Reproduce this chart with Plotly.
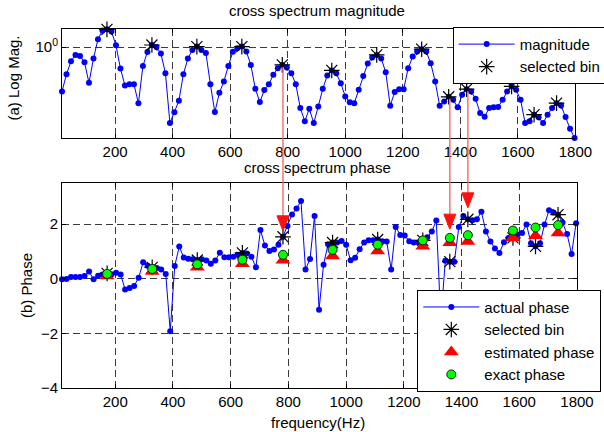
import plotly.graph_objects as go

# ---------------- data ----------------
freq = [15.625, 31.25, 46.875, 62.5, 78.125, 93.75, 109.375, 125, 140.625, 156.25,
        171.875, 187.5, 203.125, 218.75, 234.375, 250, 265.625, 281.25, 296.875, 312.5,
        328.125, 343.75, 359.375, 375, 390.625, 406.25, 421.875, 437.5, 453.125, 468.75,
        484.375, 500, 515.625, 531.25, 546.875, 562.5, 578.125, 593.75, 609.375, 625,
        640.625, 656.25, 671.875, 687.5, 703.125, 718.75, 734.375, 750, 765.625, 781.25,
        796.875, 812.5, 828.125, 843.75, 859.375, 875, 890.625, 906.25, 921.875, 937.5,
        953.125, 968.75, 984.375, 1000, 1015.625, 1031.25, 1046.875, 1062.5, 1078.125, 1093.75,
        1109.375, 1125, 1140.625, 1156.25, 1171.875, 1187.5, 1203.125, 1218.75, 1234.375, 1250,
        1265.625, 1281.25, 1296.875, 1312.5, 1328.125, 1343.75, 1359.375, 1375, 1390.625, 1406.25,
        1421.875, 1437.5, 1453.125, 1468.75, 1484.375, 1500, 1515.625, 1531.25, 1546.875, 1562.5,
        1578.125, 1593.75, 1609.375, 1625, 1640.625, 1656.25, 1671.875, 1687.5, 1703.125, 1718.75,
        1734.375, 1750, 1765.625, 1781.25, 1796.875]

mag_log10 = [-0.390, -0.238, -0.124, -0.068, -0.077, -0.132, -0.314, -0.100, 0.070, 0.146,
             0.157, 0.137, 0.017, -0.188, -0.337, -0.326, -0.326, -0.495, -0.165, -0.042,
             0.019, 0.002, -0.056, -0.229, -0.668, -0.574, -0.472, -0.238, -0.100, -0.024,
             0.005, -0.024, -0.051, -0.326, -0.572, -0.402, -0.302, -0.165, -0.040, -0.010,
             0.005, -0.038, -0.156, -0.367, -0.484, -0.378, -0.326, -0.244, -0.185, -0.156,
             -0.179, -0.229, -0.326, -0.536, -0.653, -0.543, -0.668, -0.522, -0.367, -0.249,
             -0.205, -0.229, -0.317, -0.434, -0.486, -0.493, -0.376, -0.253, -0.144, -0.091,
             -0.068, -0.100, -0.220, -0.516, -0.396, -0.370, -0.370, -0.185, -0.082, -0.038,
             -0.018, -0.038, -0.141, -0.302, -0.516, -0.478, -0.437, -0.464, -0.530, -0.420,
             -0.370, -0.390, -0.455, -0.580, -0.613, -0.536, -0.530, -0.528, -0.464, -0.390,
             -0.346, -0.376, -0.464, -0.668, -0.653, -0.595, -0.618, -0.668, -0.595, -0.536,
             -0.493, -0.513, -0.616, -0.718, -0.800]

phase = [-0.02, -0.01, 0.07, 0.07, 0.07, 0.10, 0.27, -0.02, 0.11, 0.16,
         0.20, 0.17, 0.22, 0.16, -0.39, -0.34, -0.26, 0.04, 0.61, 0.48,
         0.42, 0.40, 0.34, 0.18, -1.92, 0.47, 1.18, 0.78, 0.74, 0.72,
         0.69, 0.72, 0.67, 0.55, 0.67, 0.96, 0.79, 0.79, 0.81, 0.88,
         0.95, 0.93, 0.81, 0.42, 1.79, 1.22, 1.02, 1.07, 1.25, 1.54,
         1.94, 2.36, 2.58, 2.85, 0.34, 0.73, 2.30, -1.13, 0.52, 1.27,
         1.33, 1.33, 1.39, 1.25, 0.68, 0.77, 1.08, 1.33, 1.41, 1.41,
         1.44, 1.38, 1.37, 0.34, 1.90, 1.61, 1.59, 1.38, 1.33, 1.33,
         1.41, 1.52, 1.73, 2.14, -1.50, 0.66, 0.63, 0.63, 1.90, 2.30,
         2.18, 2.15, 2.18, 2.46, 1.73, 1.37, 1.11, 0.95, 1.34, 1.50,
         1.50, 1.62, 1.68, 1.99, 1.30, 1.19, 1.30, 1.99, 2.51, 2.43,
         2.35, 2.06, 1.64, 0.91, 2.04]

selected_freq = [171.875, 328.125, 484.375, 640.625, 781.25, 953.125, 1109.375,
                 1265.625, 1359.375, 1421.875, 1578.125, 1656.25, 1734.375]
estimated_phase = [0.10, 0.27, 0.42, 0.55, 0.68, 0.84, 1.02, 1.19, 1.32, 1.37, 1.50, 1.58, 1.68]
exact_phase = [0.18, 0.36, 0.53, 0.70, 0.88, 1.06, 1.25, 1.41, 1.50, 1.60, 1.77, 1.88, 1.97]

arrow_freq = [781.25, 1359.375, 1421.875]
arrow_tip_phase = [1.76, 1.82, 2.60]

x_ticks = [200, 400, 600, 800, 1000, 1200, 1400, 1600, 1800]
phase_ticks = [-4, -2, 0, 2]

# ---------------- derived ----------------
magnitude = [10 ** v for v in mag_log10]
sel_idx = [freq.index(f) for f in selected_freq]
sel_mag = [magnitude[i] for i in sel_idx]
sel_phase = [phase[i] for i in sel_idx]

FONT = "Liberation Sans, Arial, sans-serif"
W, H = 604, 432
ML, MR, MT, MB = 62, 27, 29, 44
TOP_DOM = [0.6964, 1.0]
BOT_DOM = [0.0, 0.5702]
LOG_RANGE = [-0.8, 0.16]
PH_RANGE = [-4, 3.5]
XR = [15.625, 1800]

BLUE = "#0000ff"
GRIDC = "#3a3a3a"

fig = go.Figure()

# top panel
fig.add_trace(go.Scatter(x=freq, y=magnitude, mode="lines+markers", name="magnitude",
                         line=dict(color=BLUE, width=1), marker=dict(color=BLUE, size=6),
                         xaxis="x", yaxis="y", legend="legend", legendgroup="a1",
                         cliponaxis=False))
fig.add_trace(go.Scatter(x=selected_freq, y=sel_mag, mode="markers", name="selected bin",
                         marker=dict(symbol="asterisk-open", size=13, color="black",
                                     line=dict(color="black", width=1.2)),
                         xaxis="x", yaxis="y", legend="legend", legendgroup="a2",
                         cliponaxis=False))

# bottom panel
fig.add_trace(go.Scatter(x=freq, y=phase, mode="lines+markers", name="actual phase",
                         line=dict(color=BLUE, width=1), marker=dict(color=BLUE, size=6),
                         xaxis="x2", yaxis="y2", legend="legend2", legendgroup="b1",
                         cliponaxis=False))
fig.add_trace(go.Scatter(x=selected_freq, y=sel_phase, mode="markers", name="selected bin",
                         marker=dict(symbol="asterisk-open", size=13, color="black",
                                     line=dict(color="black", width=1.2)),
                         xaxis="x2", yaxis="y2", legend="legend2", legendgroup="b2",
                         cliponaxis=False))
fig.add_trace(go.Scatter(x=selected_freq, y=estimated_phase, mode="markers",
                         name="estimated phase",
                         marker=dict(symbol="triangle-up", size=13, color="#ff0000",
                                     line=dict(width=0)),
                         xaxis="x2", yaxis="y2", legend="legend2", legendgroup="b3",
                         cliponaxis=False))
fig.add_trace(go.Scatter(x=selected_freq, y=exact_phase, mode="markers", name="exact phase",
                         marker=dict(symbol="circle", size=9, color="#00ff00",
                                     line=dict(color="#1a1a1a", width=1)),
                         xaxis="x2", yaxis="y2", legend="legend2", legendgroup="b4",
                         cliponaxis=False))

axis_common = dict(showline=True, linecolor="black", linewidth=1, mirror="ticks",
                   ticks="inside", ticklen=4, tickcolor="black",
                   showgrid=True, gridcolor=GRIDC, gridwidth=1, griddash="7px,4px",
                   zeroline=False, tickfont=dict(family=FONT, size=15, color="black"))

# pixel helpers (for arrow geometry)
plot_h = H - MT - MB
def top_px(logv):
    y0 = MT + (1 - TOP_DOM[1]) * plot_h
    y1 = MT + (1 - TOP_DOM[0]) * plot_h
    return y0 + (LOG_RANGE[1] - logv) / (LOG_RANGE[1] - LOG_RANGE[0]) * (y1 - y0)
def bot_px(p):
    y0 = MT + (1 - BOT_DOM[1]) * plot_h
    y1 = MT + (1 - BOT_DOM[0]) * plot_h
    return y0 + (PH_RANGE[1] - p) / (PH_RANGE[1] - PH_RANGE[0]) * (y1 - y0)
def px_to_paper(py):
    return (H - MB - py) / plot_h

annotations = [
    dict(text="cross spectrum magnitude", x=0.495, y=1.0529, xref="paper", yref="paper",
         showarrow=False, xanchor="center", yanchor="middle",
         font=dict(family=FONT, size=15, color="black")),
    dict(text="cross spectrum phase", x=0.497, y=0.6145, xref="paper", yref="paper",
         showarrow=False, xanchor="center", yanchor="middle",
         font=dict(family=FONT, size=15, color="black")),
    dict(text="frequency(Hz)", x=0.497, y=-0.0967, xref="paper", yref="paper",
         showarrow=False, xanchor="center", yanchor="middle",
         font=dict(family=FONT, size=15, color="black")),
    dict(text="(a) Log Mag.", x=-0.0961, y=0.8635, xref="paper", yref="paper",
         showarrow=False, xanchor="center", yanchor="middle", textangle=-90,
         font=dict(family=FONT, size=15, color="black")),
    dict(text="(b) Phase", x=-0.0699, y=0.2841, xref="paper", yref="paper",
         showarrow=False, xanchor="center", yanchor="middle", textangle=-90,
         font=dict(family=FONT, size=15, color="black")),
]

shapes = []
for f, tip in zip(arrow_freq, arrow_tip_phase):
    i = freq.index(f)
    start_py = top_px(mag_log10[i]) + 2
    tip_py = bot_px(tip)
    shapes.append(dict(type="line", xref="x2", yref="paper",
                       x0=f, x1=f, y0=px_to_paper(start_py), y1=px_to_paper(tip_py - 8),
                       line=dict(color="rgba(245,100,100,0.85)", width=1.6), layer="above"))
    shapes.append(dict(type="path", xref="x2", yref="y2", xsizemode="pixel", ysizemode="pixel",
                       xanchor=f, yanchor=tip, path="M -6 15 L 6 15 L 0 0 Z",
                       fillcolor="#ff1010", line=dict(color="#ff1010", width=1), layer="above"))

legend_common = dict(bgcolor="white", bordercolor="black", borderwidth=1,
                     font=dict(family=FONT, size=15, color="black"),
                     xanchor="left", yanchor="top", tracegroupgap=0, itemwidth=56,
                     itemclick=False, itemdoubleclick=False)

fig.update_layout(
    width=W, height=H, margin=dict(l=ML, r=MR, t=MT, b=MB, pad=0, autoexpand=False),
    paper_bgcolor="white", plot_bgcolor="white",
    font=dict(family=FONT, size=15, color="black"),
    showlegend=True,
    xaxis=dict(domain=[0, 0.997], range=XR, tickvals=x_ticks, anchor="y", **axis_common),
    yaxis=dict(domain=TOP_DOM, type="log", range=LOG_RANGE, tickvals=[1],
               ticktext=["10<sup>0</sup>"], anchor="x", **axis_common),
    xaxis2=dict(domain=[0, 1], range=XR, tickvals=x_ticks, anchor="y2", **axis_common),
    yaxis2=dict(domain=BOT_DOM, range=PH_RANGE, tickvals=phase_ticks, anchor="x2", **axis_common),
    legend=dict(x=0.7586, y=1.006, **legend_common),
    legend2=dict(x=0.6899, y=0.2738, **legend_common),
    annotations=annotations,
    shapes=shapes,
)

fig.write_html("out.html")
